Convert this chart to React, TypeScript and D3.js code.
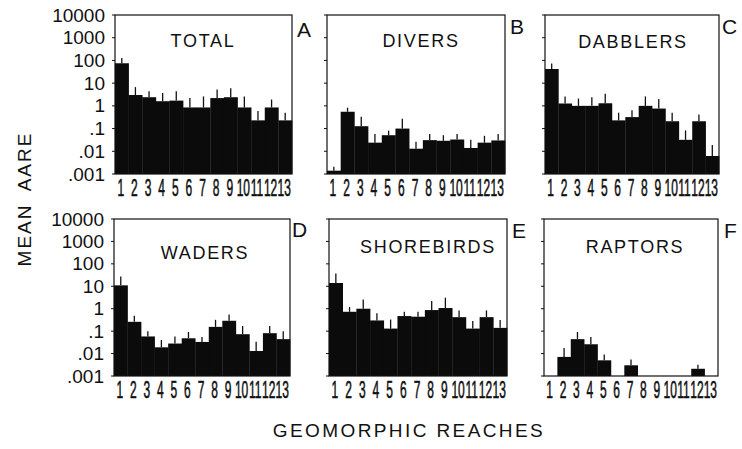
import React from "react";
import { scaleBand, scaleLog } from "d3";

// geomorphic reaches (x categories)
const reaches = ["1", "2", "3", "4", "5", "6", "7", "8", "9", "10", "11", "12", "13"];
const yTicks = [0.001, 0.01, 0.1, 1, 10, 100, 1000, 10000];
const yTickLabels = [".001", ".01", ".1", "1", "10", "100", "1000", "10000"];

// mean AARE per reach, and top of the error bar (0 = no bar)
const totalMean = [75, 3, 2.4, 1.6, 1.7, 0.85, 0.85, 2.2, 2.4, 0.85, 0.23, 0.85, 0.23];
const totalErr = [127, 6.7, 4.4, 3.7, 4.4, 2.2, 2.6, 5.3, 6, 2.6, 0.6, 1.9, 0.5];
const diversMean = [0.0014, 0.55, 0.127, 0.024, 0.051, 0.1, 0.013, 0.031, 0.029, 0.033, 0.014, 0.024, 0.03];
const diversErr = [0.0021, 0.83, 0.33, 0.057, 0.081, 0.27, 0.026, 0.057, 0.051, 0.057, 0.032, 0.048, 0.057];
const dabblersMean = [42, 1.27, 1.0, 1.0, 1.3, 0.23, 0.32, 1.0, 0.76, 0.21, 0.032, 0.21, 0.0062];
const dabblersErr = [74, 2.6, 2.1, 2.4, 3.4, 0.5, 0.64, 2.6, 2.0, 0.5, 0.083, 0.42, 0.019];
const wadersMean = [11, 0.26, 0.058, 0.019, 0.028, 0.048, 0.033, 0.155, 0.29, 0.073, 0.013, 0.081, 0.044];
const wadersErr = [27, 0.48, 0.1, 0.04, 0.057, 0.092, 0.055, 0.32, 0.55, 0.17, 0.034, 0.17, 0.1];
const shorebirdsMean = [14, 0.73, 1.0, 0.3, 0.13, 0.47, 0.44, 0.87, 1.07, 0.42, 0.13, 0.42, 0.14];
const shorebirdsErr = [37, 1.2, 2.6, 0.62, 0.33, 0.73, 0.73, 2.2, 3.1, 0.84, 0.28, 0.84, 0.31];
const raptorsMean = [0, 0.0071, 0.044, 0.026, 0.005, 0, 0.003, 0, 0, 0, 0, 0.0021, 0];
const raptorsErr = [0, 0.0179, 0.092, 0.055, 0.009, 0, 0.0055, 0, 0, 0, 0, 0.0032, 0];

const panels = [
  { letter: "A", title: "TOTAL", mean: totalMean, err: totalErr },
  { letter: "B", title: "DIVERS", mean: diversMean, err: diversErr },
  { letter: "C", title: "DABBLERS", mean: dabblersMean, err: dabblersErr },
  { letter: "D", title: "WADERS", mean: wadersMean, err: wadersErr },
  { letter: "E", title: "SHOREBIRDS", mean: shorebirdsMean, err: shorebirdsErr },
  { letter: "F", title: "RAPTORS", mean: raptorsMean, err: raptorsErr },
];

// frame of each panel, plus where the title and letter sit
const boxes = [
  { x0: 115, x1: 292, y0: 15, y1: 174, tx: 203, ty: 47, lx: 297, ly: 37, labels: true },
  { x0: 327, x1: 505, y0: 15, y1: 174, tx: 421, ty: 47, lx: 510, ly: 34, labels: false },
  { x0: 545, x1: 719, y0: 15, y1: 174, tx: 633, ty: 48, lx: 722, ly: 34, labels: false },
  { x0: 114, x1: 290, y0: 219, y1: 376, tx: 205, ty: 259, lx: 292, ly: 237, labels: true },
  { x0: 329, x1: 507, y0: 219, y1: 376, tx: 428, ty: 253, lx: 512, ly: 238, labels: false },
  { x0: 544, x1: 718, y0: 219, y1: 376, tx: 635, ty: 253, lx: 724, ly: 238, labels: false },
];

const FONT = "'Liberation Sans', Arial, Helvetica, sans-serif";

const Panel = ({ p, b }) => {
  const x = scaleBand().domain(reaches).range([b.x0, b.x1]).padding(0);
  const y = scaleLog().domain([0.001, 10000]).range([b.y1, b.y0]);
  const bw = x.bandwidth();
  return (
    <g>
      {reaches.map((r, i) => {
        const v = p.mean[i];
        if (!v) return null;
        const e = p.err[i];
        const cx = x(r) + bw / 2;
        return (
          <g key={r}>
            <rect x={x(r)} y={y(v)} width={bw + 0.3} height={b.y1 - y(v)} fill="#0b0b0b" />
            {e > v && (
              <line x1={cx} x2={cx} y1={y(v)} y2={y(e)} stroke="#111" strokeWidth={1.3} />
            )}
          </g>
        );
      })}
      <rect x={b.x0} y={b.y0} width={b.x1 - b.x0} height={b.y1 - b.y0} fill="none" stroke="#111" strokeWidth={1.2} />
      {yTicks.map((t, i) => (
        <g key={t}>
          <line x1={b.x0 - 3} x2={b.x0} y1={y(t)} y2={y(t)} stroke="#111" strokeWidth={1} />
          {b.labels && (
            <text x={b.x0 - 10} y={y(t) + 6.5} textAnchor="end" fontSize={19} fontFamily={FONT} fill="#111">
              {yTickLabels[i]}
            </text>
          )}
        </g>
      ))}
      {reaches.map((r) => (
        <text
          key={r}
          transform={`translate(${x(r) + bw / 2 - 1},${b.y1 + 22}) scale(0.5,1)`}
          textAnchor="middle"
          fontSize={24}
          fontFamily={FONT}
          stroke="#111"
          strokeWidth={0.6}
          fill="#111"
        >
          {r}
        </text>
      ))}
      <text x={b.tx} y={b.ty} textAnchor="middle" fontSize={18} letterSpacing={1.7} fontFamily={FONT} fill="#111">
        {p.title}
      </text>
      <text x={b.lx} y={b.ly} fontSize={21} fontFamily={FONT} fill="#111">
        {p.letter}
      </text>
    </g>
  );
};

const App = () => (
  <svg width={742} height={449} style={{ position: "absolute", left: 0, top: 0, background: "#fff" }}>
    <rect width={742} height={449} fill="#fff" />
    {panels.map((p, i) => (
      <Panel key={p.letter} p={p} b={boxes[i]} />
    ))}
    <text
      transform="translate(31,199) rotate(-90)"
      textAnchor="middle"
      fontSize={19}
      letterSpacing={2}
      wordSpacing={6}
      fontFamily={FONT}
      fill="#111"
    >
      MEAN AARE
    </text>
    <text x={409} y={437} textAnchor="middle" fontSize={19} letterSpacing={2.4} fontFamily={FONT} fill="#111">
      GEOMORPHIC REACHES
    </text>
  </svg>
);

export default App;
